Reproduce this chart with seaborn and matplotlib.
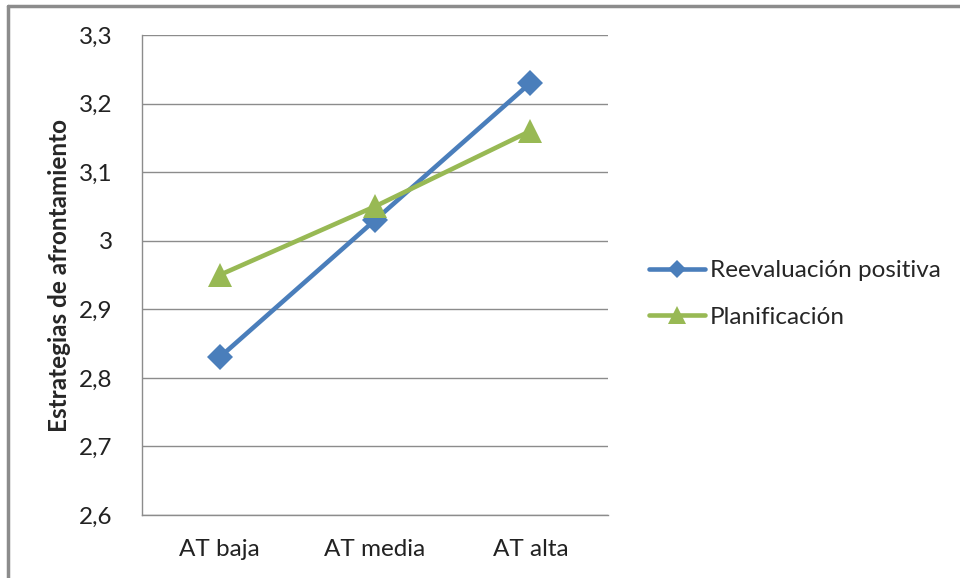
import matplotlib
matplotlib.use("Agg")
import matplotlib.pyplot as plt
from matplotlib.lines import Line2D
from matplotlib.ticker import FuncFormatter, MultipleLocator
import pandas as pd
import seaborn as sns

niveles = ["AT baja", "AT media", "AT alta"]
reevaluacion = [2.83, 3.03, 3.23]
planificacion = [2.95, 3.05, 3.16]
series = {"Reevaluación positiva": reevaluacion, "Planificación": planificacion}

AZUL = "#4a7ebb"
VERDE = "#98b954"
GRIS = "#8c8c8c"

df = pd.DataFrame([
    {"nivel": n, "valor": v, "estrategia": s}
    for s, vals in series.items() for n, v in zip(niveles, vals)
])

sns.set_theme(style="white")
plt.rcParams["font.family"] = ["Lato", "DejaVu Sans"]

fig = plt.figure(figsize=(9.6, 5.78), dpi=100)
ax = fig.add_axes([142 / 960, 1 - 515 / 578, 466 / 960, 480 / 578])

sns.lineplot(data=df, x="nivel", y="valor", hue="estrategia", style="estrategia",
             palette={"Reevaluación positiva": AZUL, "Planificación": VERDE},
             markers={"Reevaluación positiva": "D", "Planificación": "^"},
             dashes=False, sort=False, linewidth=3.3, markersize=13,
             markeredgewidth=0, ax=ax, legend=False)
# los triangulos de Excel salen mas grandes que los rombos
for ln in ax.lines:
    if ln.get_marker() == "^":
        ln.set_markersize(17)

ax.set_xlim(-0.5, 2.5)
ax.set_ylim(2.6, 3.3)
ax.yaxis.set_major_locator(MultipleLocator(0.1))
ax.yaxis.set_major_formatter(FuncFormatter(lambda v, p: f"{v:.1f}".replace(".", ",").replace(",0", "")))
ax.grid(axis="y", color=GRIS, linewidth=1)
ax.set_axisbelow(True)
for side in ["top", "right"]:
    ax.spines[side].set_visible(False)
for side in ["left", "bottom"]:
    ax.spines[side].set_color(GRIS)
    ax.spines[side].set_linewidth(1)
ax.tick_params(axis="y", length=0, pad=21, labelsize=17.5, labelcolor="#222222")
ax.tick_params(axis="x", length=0, pad=17, labelsize=17.5, labelcolor="#222222")
ax.set_xlabel("")
ax.set_ylabel("Estrategias de afrontamiento", fontsize=17.5, fontweight="bold")
ax.yaxis.set_label_coords((71 - 142) / 466, 0.5)

handles = [Line2D([], [], color=AZUL, lw=3.3, marker="D", markersize=9, markeredgewidth=0),
           Line2D([], [], color=VERDE, lw=3.3, marker="^", markersize=13, markeredgewidth=0)]
fig.legend(handles, list(series.keys()), loc="center left",
           bbox_to_anchor=(627 / 960, 1 - 294 / 578), frameon=False, fontsize=17.5,
           handlelength=2.3, handletextpad=0.2, labelspacing=1.05)

# marco del grafico
fig.add_artist(Line2D([8 / 960, 8 / 960], [0, 1 - 6 / 578], color=GRIS, lw=2.5,
                      transform=fig.transFigure))
fig.add_artist(Line2D([8 / 960, 1], [1 - 6 / 578, 1 - 6 / 578], color=GRIS, lw=2.5,
                      transform=fig.transFigure))

fig.savefig("out.png", dpi=100)
